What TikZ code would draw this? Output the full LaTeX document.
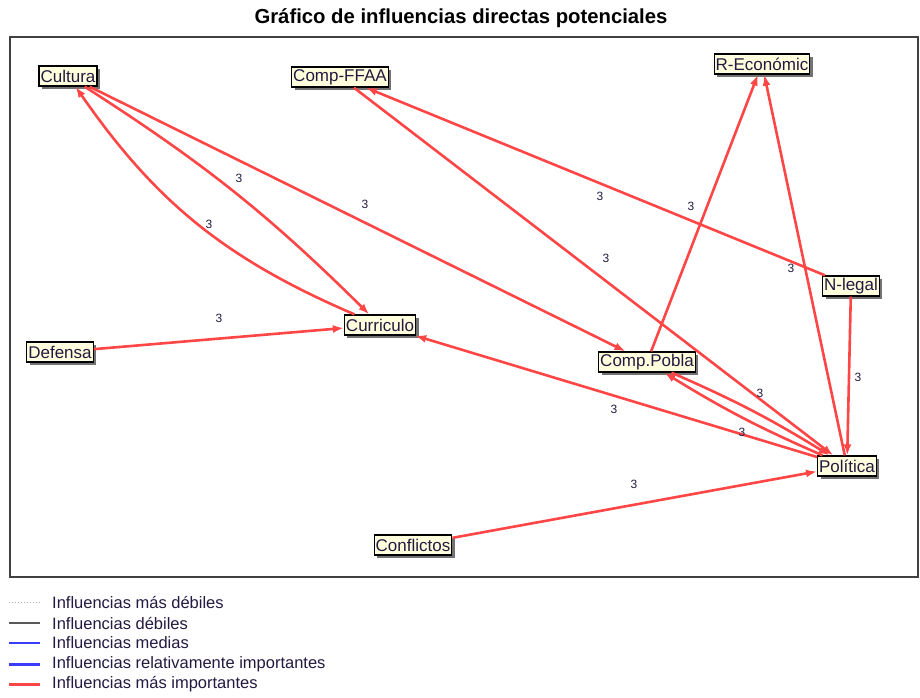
\documentclass[tikz,border=0pt]{standalone}
\usepackage{fontspec}
\setmainfont{Liberation Sans}
\usetikzlibrary{arrows.meta,shadows}
\definecolor{boxfill}{RGB}{255,255,222}
\definecolor{inflred}{RGB}{255,70,70}
\definecolor{inflblue}{RGB}{60,60,255}
\definecolor{txtdark}{RGB}{35,25,65}
\tikzset{x=1pt, y=1pt}
\tikzset{
  var/.style={draw=black, line width=1.3pt, fill=boxfill, text=txtdark,
    font=\fontsize{17}{19}\selectfont, inner xsep=1.5pt, inner ysep=0pt,
    minimum height=20pt,
    drop shadow={shadow xshift=3pt,shadow yshift=-3pt,fill=black!55,opacity=1}},
  infl/.style={draw=inflred, line width=2.6pt, -{Latex[length=11pt,width=8pt]}},
  lbl/.style={font=\fontsize{12}{13}\selectfont, text=txtdark, inner sep=0pt},
  legtxt/.style={font=\fontsize{16.5}{18}\selectfont, text=txtdark, anchor=west, inner sep=0pt},
  legA/.style={draw=black!30, dotted, line width=1pt},
  legB/.style={draw=black!65, line width=1.2pt},
  legC/.style={draw=inflblue, line width=1.2pt},
  legD/.style={draw=inflblue, line width=3pt},
  legE/.style={draw=inflred, line width=3pt}
}
\begin{document}
\begin{tikzpicture}
\useasboundingbox (0,0) rectangle (920,-698);
\node[font=\bfseries\fontsize{20.3}{22}\selectfont] (title) at (461,-18)
  {Gráfico de influencias directas potenciales};
\draw[line width=1.8pt, black!75] (10,-37) rectangle (918,-577); % frame

% variables
\node[var] (cultura) at (68,-76) {Cultura};
\node[var] (compffaa) at (340,-77) {Comp-FFAA};
\node[var] (reco) at (762,-64) {R-Económic};
\node[var] (defensa) at (60,-352) {Defensa};
\node[var] (curriculo) at (380,-325) {Curriculo};
\node[var] (compobla) at (647,-362) {Comp.Pobla};
\node[var] (nlegal) at (851,-286) {N-legal};
\node[var] (politica) at (847,-466) {Política};
\node[var] (conflictos) at (413,-545) {Conflictos};

% influences
\draw[infl] (cultura) to[bend left=6] (curriculo);
\draw[infl] (curriculo) to[bend left=16] (cultura);
\draw[infl] (cultura) -- (compobla);
\draw[infl] (defensa) -- (curriculo);
\draw[infl] (nlegal) -- (compffaa);
\draw[infl] (compobla) -- (reco);
\draw[infl] (compffaa) -- (politica);
\draw[infl] (politica) -- (reco);
\draw[infl] (nlegal) -- (politica);
\draw[infl] (politica) to[bend left=4] (compobla);
\draw[infl] (compobla) to[bend left=4] (politica);
\draw[infl] (politica) -- (curriculo);
\draw[infl] (conflictos) -- (politica);

% weights
\foreach \xx/\yy [count=\i] in {239/178, 209/224, 365/204, 219/318, 600/196,
  691/206, 606/258, 791/268, 858/377, 760/393, 742/432, 614/409, 634/484}
  \node[lbl] (w\i) at (\xx,-\yy) {3};

% legend
\foreach \yy/\sty/\txt [count=\i] in {602/legA/Influencias más débiles,
  623/legB/Influencias débiles, 643/legC/Influencias medias,
  664/legD/Influencias relativamente importantes,
  684/legE/Influencias más importantes}
{
  \coordinate (la\i) at (9,-\yy);
  \coordinate (lb\i) at (40,-\yy);
  \draw[\sty] (la\i) -- (lb\i);
  \node[legtxt] (lt\i) at (52,-\yy) {\txt};
}
\end{tikzpicture}
\end{document}
